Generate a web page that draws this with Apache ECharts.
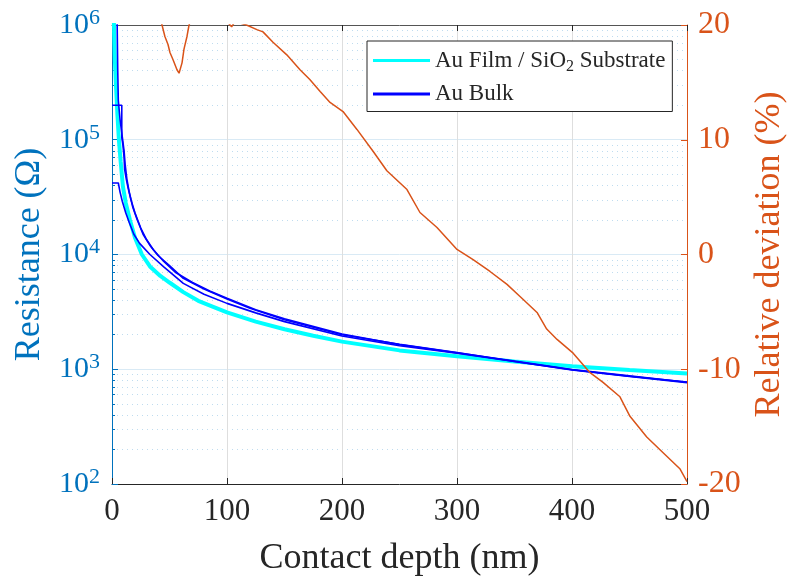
<!DOCTYPE html>
<html>
<head>
<meta charset="utf-8">
<script src="https://cdn.jsdelivr.net/npm/echarts@6/dist/echarts.min.js"></script>
<style>html,body{margin:0;padding:0;background:#fff;}#c{width:793px;height:581px;}</style>
</head>
<body>
<div id="c"></div>
<script>
// ---- data ----
const FILM = 'Au Film / SiO2 Substrate';
const BULK = 'Au Bulk';

const filmData = [
  [1.0, 3e6], [1.7, 1e6], [2.5, 5e5], [3.5, 2.9e5], [4.8, 1.6e5], [6, 1e5], [7.5, 6.5e4],
  [9.5, 3.9e4], [12, 2.8e4], [15.6, 2e4], [20, 1.4e4], [26, 1e4], [33, 7870], [42, 6500],
  [50, 5700], [62, 4700], [75, 3950], [88, 3500], [100, 3130], [125, 2600], [150, 2230],
  [175, 1960], [200, 1740], [250, 1460], [300, 1300], [350, 1170], [400, 1060], [450, 985], [500, 920]
];

const bulk1Data = [
  [4, 3e6], [4.5, 1e6], [5, 4e5], [5.5, 2.2e5], [7, 1.5e5], [9, 1.05e5], [10.5, 8e4], [11.5, 6e4],
  [13, 4.5e4], [15, 3.5e4], [18, 2.6e4], [22, 2e4], [27, 1.5e4], [33, 1.2e4], [40, 9800],
  [50, 8000], [62, 6200], [80, 5000], [100, 4100], [120, 3400], [150, 2700], [200, 2000],
  [250, 1650], [300, 1400], [350, 1170], [400, 990], [450, 870], [500, 775]
];

const bulk2Data = [
  [0, 2e5], [8.5, 2e5], [8.5, 1.05e5], [9.5, 9e4], [10.5, 7e4], [11, 5.5e4], [12.5, 4.5e4],
  [14, 3.8e4], [16.5, 3e4], [20, 2.3e4], [25, 1.7e4], [30, 1.35e4], [36, 1.1e4], [45, 8700],
  [55, 7000], [70, 5700], [85, 4800], [100, 4150], [125, 3300], [150, 2750], [200, 2030],
  [250, 1640], [300, 1390], [350, 1180], [400, 995], [450, 875], [500, 770]
];

const bulk3Data = [
  [0, 4.2e4], [5.5, 4.2e4], [7, 3.5e4], [9, 2.9e4], [12, 2.3e4], [15, 1.9e4], [19, 1.5e4],
  [24, 1.25e4], [33, 1e4], [45, 7800], [62, 5600], [80, 4500], [100, 3750], [125, 3100],
  [150, 2600], [200, 1950], [250, 1600], [300, 1380], [350, 1170], [400, 985], [450, 865], [500, 765]
];

const deviationData = [
  [30, 25], [43.5, 20.0], [46, 19.0], [48.7, 18.3], [50.4, 17.6], [53, 17.0], [56.5, 16.1],
  [58.3, 15.8], [60.9, 16.7], [62.6, 17.9], [65.2, 19.0], [67, 20.0], [80, 23], [100, 20.3],
  [104, 19.85], [107, 20.3], [117, 20.0], [126, 19.6], [131.3, 19.4], [140, 18.5], [152, 17.4],
  [163.5, 16.1], [172, 15.25], [181, 14.2], [189.6, 13.25], [200.9, 12.46], [213, 10.9],
  [227, 9.0], [239, 7.3], [256.5, 5.66], [267.8, 3.66], [282.6, 2.35], [300, 0.44],
  [314, -0.44], [328.7, -1.48], [343.5, -2.6], [354.8, -3.66], [369.6, -5.05], [378, -6.5],
  [387, -7.4], [401, -8.6], [415.7, -10.3], [427, -11.15], [441.7, -12.4], [450.4, -14.1],
  [465, -15.9], [479, -17.25], [494, -18.7], [500, -19.8]
];

const xTicks = [0, 100, 200, 300, 400, 500];
const rightTicks = [-20, -10, 0, 10, 20];
const logDecades = [100, 1000, 10000, 100000];
const minorMultipliers = [2, 3, 4, 5, 6, 7, 8, 9];

const minorValues = [];
logDecades.forEach(d => minorMultipliers.forEach(m => minorValues.push(d * m)));

const SERIF = '"Liberation Serif", "Times New Roman", serif';
const BLUE_AX = '#0072BD';
const ORANGE = '#D95319';
const DARK = '#262626';

const chart = echarts.init(document.getElementById('c'), null, {renderer: 'canvas'});
chart.setOption({
  animation: false,
  backgroundColor: '#fff',
  grid: {left: 112, right: 106, top: 25, bottom: 97, containLabel: false, outerBoundsMode: 'none'},
  legend: {
    data: [FILM, BULK],
    orient: 'vertical',
    left: 367, top: 41,
    padding: [8, 7, 6, 6],
    itemGap: 8,
    itemWidth: 57, itemHeight: 3,
    icon: 'rect',
    selectedMode: false,
    backgroundColor: '#fff',
    borderColor: DARK, borderWidth: 1, borderRadius: 0,
    formatter: name => name === FILM ? 'Au Film / SiO{sub|2} Substrate' : name,
    textStyle: {
      fontFamily: SERIF, fontSize: 23, color: DARK,
      rich: {sub: {fontFamily: SERIF, fontSize: 16, color: DARK, padding: [12, 0, 0, 0]}}
    }
  },
  xAxis: [{
    type: 'value', position: 'bottom', min: xTicks[0], max: xTicks[xTicks.length - 1], interval: 100,
    axisLine: {show: true, onZero: false, lineStyle: {color: DARK, width: 1}},
    axisTick: {show: true, inside: true, length: 6, lineStyle: {color: DARK}},
    axisLabel: {fontFamily: SERIF, fontSize: 31, color: DARK, margin: 12},
    splitLine: {show: true, lineStyle: {color: '#dedede', width: 1}},
    name: 'Contact depth (nm)', nameLocation: 'middle', nameGap: 57,
    nameTextStyle: {fontFamily: SERIF, fontSize: 36, color: DARK}
  }, {
    type: 'value', position: 'top', min: 0, max: 500, interval: 100,
    axisLine: {show: true, onZero: false, lineStyle: {color: '#555', width: 1}},
    axisTick: {show: true, inside: true, length: 6, lineStyle: {color: DARK}},
    axisLabel: {show: false}, splitLine: {show: false}
  }],
  yAxis: [{
    type: 'log', logBase: 10, position: 'left', min: 100, max: 1e6,
    axisLine: {show: true, onZero: false, lineStyle: {color: BLUE_AX, width: 1}},
    axisTick: {show: true, inside: true, length: 6, lineStyle: {color: BLUE_AX}},
    axisLabel: {
      margin: 12,
      formatter: v => '{b|10}{s|' + Math.round(Math.log10(v)) + '}',
      rich: {
        b: {fontFamily: SERIF, fontSize: 30, color: BLUE_AX},
        s: {fontFamily: SERIF, fontSize: 22, color: BLUE_AX, padding: [0, 0, 14, 0]}
      }
    },
    splitLine: {show: true, lineStyle: {color: '#D9EAF5', width: 1}},
    name: 'Resistance (Ω)', nameLocation: 'middle', nameGap: 64,
    nameTextStyle: {fontFamily: SERIF, fontSize: 36, color: BLUE_AX}
  }, {
    type: 'value', position: 'right', min: rightTicks[0], max: rightTicks[rightTicks.length - 1], interval: 10,
    axisLine: {show: true, onZero: false, lineStyle: {color: ORANGE, width: 1}},
    axisTick: {show: true, inside: true, length: 6, lineStyle: {color: ORANGE}},
    axisLabel: {fontFamily: SERIF, fontSize: 32, color: ORANGE, margin: 11},
    splitLine: {show: false},
    name: 'Relative deviation (%)', nameLocation: 'middle', nameGap: 58, nameRotate: 90,
    nameTextStyle: {fontFamily: SERIF, fontSize: 36, color: ORANGE}
  }, {
    type: 'log', logBase: 10, position: 'left', min: 100, max: 1e6,
    axisLine: {show: false, onZero: false},
    axisTick: {show: true, inside: true, length: 3, customValues: minorValues, lineStyle: {color: BLUE_AX}},
    axisLabel: {show: false},
    splitLine: {show: true, lineStyle: {color: '#BFDCEF', width: 1, type: [1, 4]}}
  }],
  series: [
    {type: 'line', name: FILM, data: filmData, xAxisIndex: 0, yAxisIndex: 0, symbol: 'none', showSymbol: false,
     lineStyle: {color: '#00FFFF', width: 4}, itemStyle: {color: '#00FFFF'}, z: 3},
    {type: 'line', name: BULK, data: bulk1Data, xAxisIndex: 0, yAxisIndex: 0, symbol: 'none', showSymbol: false,
     lineStyle: {color: '#0000FF', width: 1.6}, itemStyle: {color: '#0000FF'}, z: 4},
    {type: 'line', name: BULK, data: bulk2Data, xAxisIndex: 0, yAxisIndex: 0, symbol: 'none', showSymbol: false,
     lineStyle: {color: '#0000FF', width: 1.6}, itemStyle: {color: '#0000FF'}, z: 4},
    {type: 'line', name: BULK, data: bulk3Data, xAxisIndex: 0, yAxisIndex: 0, symbol: 'none', showSymbol: false,
     lineStyle: {color: '#0000FF', width: 1.6}, itemStyle: {color: '#0000FF'}, z: 4},
    {type: 'line', name: 'Relative deviation', data: deviationData, xAxisIndex: 0, yAxisIndex: 1, symbol: 'none', showSymbol: false,
     lineStyle: {color: ORANGE, width: 1.5}, itemStyle: {color: ORANGE}, z: 5}
  ]
});
</script>
</body>
</html>
